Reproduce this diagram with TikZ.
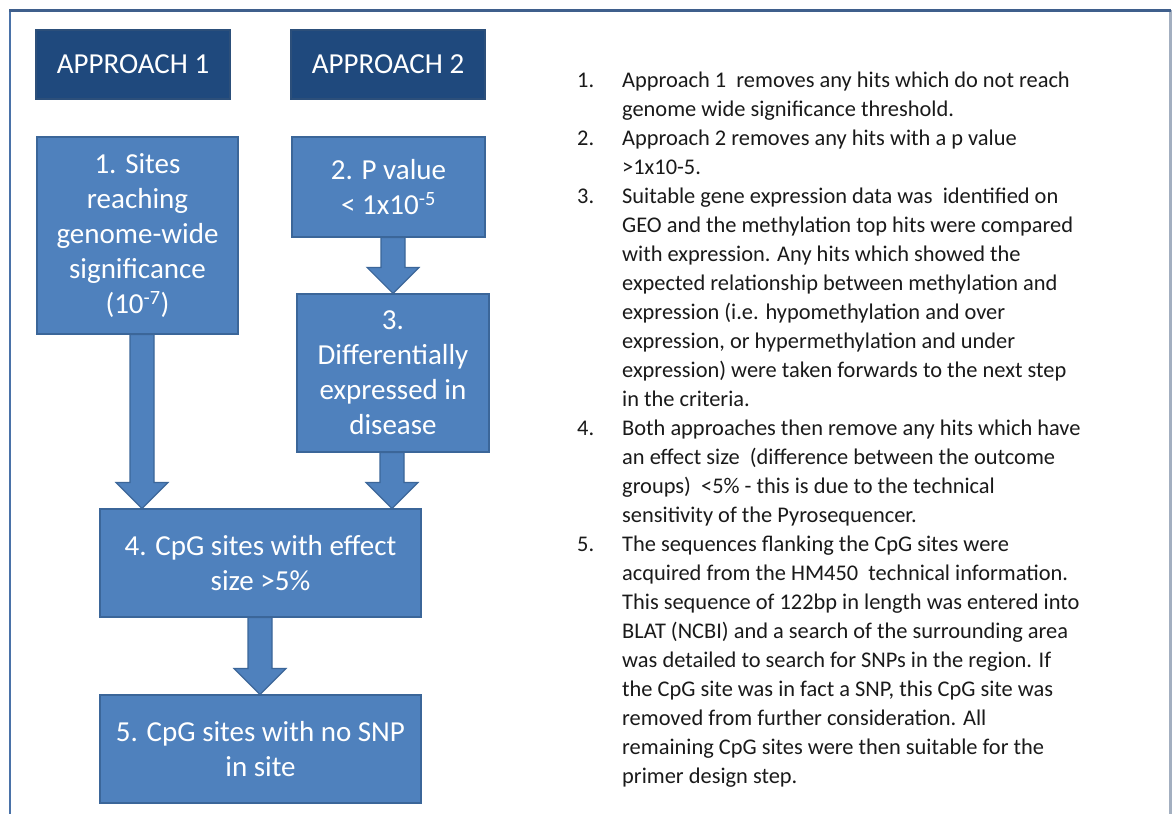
\documentclass[tikz,border=0pt]{standalone}
\usepackage{fontspec}
\setmainfont{Carlito}
\usetikzlibrary{calc}
\definecolor{darkbox}{HTML}{1F497D}
\definecolor{darkedge}{HTML}{2C4F7A}
\definecolor{midbox}{HTML}{4F81BD}
\definecolor{midedge}{HTML}{3B6699}
\definecolor{frametop}{HTML}{3F5F8C}
\definecolor{frameleft}{HTML}{4A72A8}
\definecolor{frameright}{HTML}{A3AFC0}
\definecolor{notetext}{HTML}{1A1A1A}
\newcommand{\blockarr}[3]{%
  \draw[barrowst] ($(#3 |- #1.south)+(-12,0)$) -- ($(#3 |- #2.north)+(-12,-26)$)
    -- ($(#3 |- #2.north)+(-26,-26)$) -- (#3 |- #2.north)
    -- ($(#3 |- #2.north)+(26,-26)$) -- ($(#3 |- #2.north)+(12,-26)$)
    -- ($(#3 |- #1.south)+(12,0)$) -- cycle;}
\begin{document}
\begin{tikzpicture}[x=1pt,y=-1pt,
  headbox/.style={draw=darkedge, fill=darkbox, line width=1.2pt, text=white,
    minimum width=194pt, minimum height=69pt, inner sep=0pt,
    font=\fontsize{29}{34}\selectfont, align=center},
  stepbox/.style={draw=midedge, fill=midbox, line width=1.2pt, text=white,
    inner sep=0pt, font=\fontsize{29}{35}\selectfont, align=center},
  barrowst/.style={draw=midedge, fill=midbox, line width=1.2pt, line join=miter},
  rtext/.style={text=notetext, inner sep=0pt, align=left,
    font=\fontsize{22.4}{29}\selectfont}]
\useasboundingbox (0,0) rectangle (1176,814);
\fill[white] (0,0) rectangle (1176,814);
% frame
\draw[frameright, line width=3pt] (1170,10) -- (1170,814);
\draw[frameleft, line width=2.5pt] (10,10) -- (10,814);
\draw[frametop, line width=2.5pt] (9,10.5) -- (1171,10.5);
% header boxes
\node[headbox] (a1) at (133,64.5) {APPROACH 1};
\node[headbox] (a2) at (388,64.5) {APPROACH 2};
% step boxes
\node[stepbox, minimum width=201pt, minimum height=197pt] (b1) at (137.5,235.5)
  {1. Sites\\reaching\\genome-wide\\significance\\(10\textsuperscript{-7})};
\node[stepbox, minimum width=193pt, minimum height=100pt] (b2) at (388.5,187)
  {2. P value\\< 1x10\textsuperscript{-5}};
\node[stepbox, minimum width=192pt, minimum height=158pt] (b3) at (393,373)
  {3.\\Differentially\\expressed in\\disease};
\node[stepbox, minimum width=321pt, minimum height=108pt] (b4) at (260.5,563)
  {4. CpG sites with effect\\size >5\%};
\node[stepbox, minimum width=321pt, minimum height=108pt] (b5) at (260.5,749)
  {5. CpG sites with no SNP\\in site};
% arrow centres
\coordinate (c1) at (142,0);
\coordinate (c2) at (393,0);
\coordinate (c3) at (392,0);
\coordinate (c4) at (260,0);
\blockarr{b1}{b4}{c1}
\blockarr{b2}{b3}{c2}
\blockarr{b3}{b4}{c3}
\blockarr{b4}{b5}{c4}
% notes
\node[rtext, anchor=north west] (notes) at (577,72) {%
\makebox[45pt][l]{1.}Approach 1 \ removes any hits which do not reach\\
\hspace*{45pt}genome wide significance threshold.\\
\makebox[45pt][l]{2.}Approach 2 removes any hits with a p value\\
\hspace*{45pt}>1x10-5.\\
\makebox[45pt][l]{3.}Suitable gene expression data was \ identified on\\
\hspace*{45pt}GEO and the methylation top hits were compared\\
\hspace*{45pt}with expression. Any hits which showed the\\
\hspace*{45pt}expected relationship between methylation and\\
\hspace*{45pt}expression (i.e. hypomethylation and over\\
\hspace*{45pt}expression, or hypermethylation and under\\
\hspace*{45pt}expression) were taken forwards to the next step\\
\hspace*{45pt}in the criteria.\\
\makebox[45pt][l]{4.}Both approaches then remove any hits which have\\
\hspace*{45pt}an effect size \ (difference between the outcome\\
\hspace*{45pt}groups) \ <5\% - this is due to the technical\\
\hspace*{45pt}sensitivity of the Pyrosequencer.\\
\makebox[45pt][l]{5.}The sequences flanking the CpG sites were\\
\hspace*{45pt}acquired from the HM450 \ technical information.\\
\hspace*{45pt}This sequence of 122bp in length was entered into\\
\hspace*{45pt}BLAT (NCBI) and a search of the surrounding area\\
\hspace*{45pt}was detailed to search for SNPs in the region. If\\
\hspace*{45pt}the CpG site was in fact a SNP, this CpG site was\\
\hspace*{45pt}removed from further consideration. All\\
\hspace*{45pt}remaining CpG sites were then suitable for the\\
\hspace*{45pt}primer design step.};
\end{tikzpicture}
\end{document}
